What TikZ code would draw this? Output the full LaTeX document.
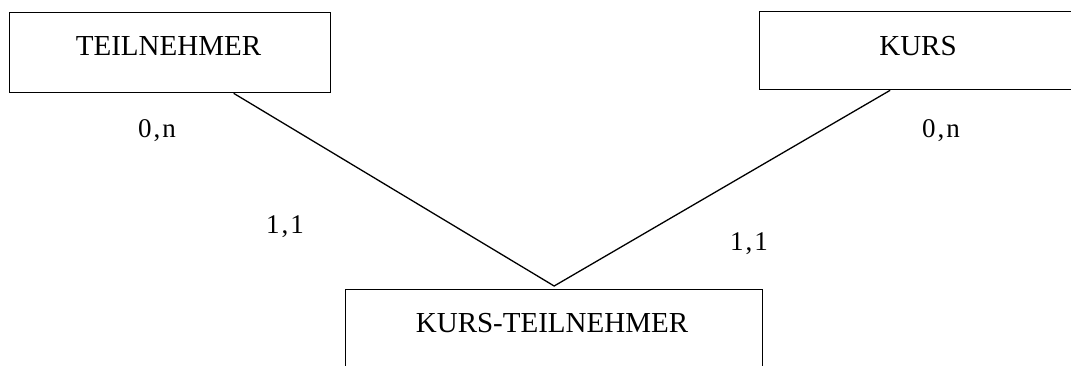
\documentclass[tikz,border=0pt]{standalone}
\usepackage{fontspec}
\setmainfont{Liberation Serif}
\begin{document}
\begin{tikzpicture}[x=1pt,y=-1pt,
  box/.style={draw, line width=1.3pt, anchor=north west, inner sep=0pt},
  title/.style={font=\fontsize{29}{34}\selectfont, anchor=base, inner sep=0pt},
  card/.style={font=\fontsize{27}{32}\selectfont, anchor=base, inner sep=0pt},
  link/.style={line width=1.3pt}]
\useasboundingbox (0,0) rectangle (1071,365);
\clip (0,0) rectangle (1071,365);
% boxes
\node[box, minimum width=321pt, minimum height=80pt] (teil) at (9,12) {};
\node[box, minimum width=340pt, minimum height=78pt] (kurs) at (759,11) {};
\node[box, minimum width=417pt, minimum height=100pt] (kt) at (345,289) {};
% box texts
\node[title] (teilT) at (168.5,55) {TEILNEHMER};
\node[title] (kursT) at (918,55) {KURS};
\node[title] (ktT) at (552,332) {KURS-TEILNEHMER};
% connectors
\coordinate (apex) at ([yshift=3pt]kt.north);
\coordinate (tl) at ([xshift=63.5pt]teil.south);
\coordinate (kl) at ([xshift=-39.5pt]kurs.south);
\draw[link] (tl) -- (apex) -- (kl);
% cardinalities
\node[card] (c1) at (157,137) {0\kern2pt,\kern2pt n};
\node[card] (c2) at (941,137) {0\kern2pt,\kern2pt n};
\node[card] (c3) at (285,233) {1\kern2pt,\kern2pt 1};
\node[card] (c4) at (749,250) {1\kern2pt,\kern2pt 1};
\end{tikzpicture}
\end{document}
